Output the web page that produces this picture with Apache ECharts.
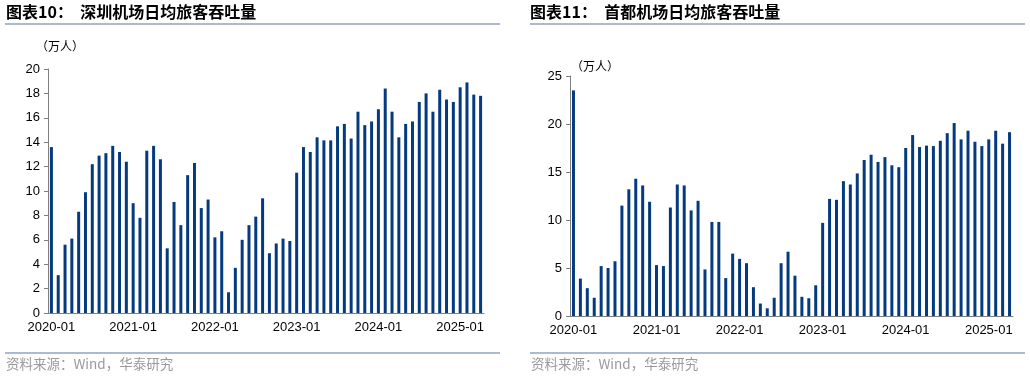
<!DOCTYPE html>
<html lang="zh">
<head>
    <meta charset="UTF-8" />
    <title>机场日均旅客吞吐量</title>
    <script src="https://cdn.jsdelivr.net/npm/echarts@6/dist/echarts.min.js"></script>
    <style>
        html, body { margin: 0; padding: 0; background: #fff; }
        #main { width: 1030px; height: 377px; }
    </style>
</head>
<body>
    <div id="main"></div>
    <script>
        // 月份 2020-01 ~ 2025-04
        var months = [];
        for (var y = 2020; y <= 2025; y++) {
            for (var m = 1; m <= 12; m++) {
                if (y === 2025 && m > 4) break;
                months.push(y + '-' + (m < 10 ? '0' + m : m));
            }
        }

        // 深圳机场日均旅客吞吐量（万人）
        var shenzhen = [
            13.6, 3.1, 5.6, 6.1, 8.3, 9.9, 12.2, 12.9, 13.1, 13.7, 13.2, 12.4,
            9.0, 7.8, 13.3, 13.7, 12.6, 5.3, 9.1, 7.2, 11.3, 12.3, 8.6, 9.3,
            6.2, 6.7, 1.7, 3.7, 6.0, 7.2, 7.9, 9.4, 4.9, 5.7, 6.1, 5.9,
            11.5, 13.6, 13.2, 14.4, 14.15, 14.15, 15.3, 15.5, 14.3, 16.5, 15.4, 15.7,
            16.7, 18.4, 16.5, 14.4, 15.5, 15.7, 17.3, 18.0, 16.5, 18.3, 17.5, 17.3,
            18.5, 18.9, 17.9, 17.8
        ];

        // 首都机场日均旅客吞吐量（万人）
        var beijing = [
            23.5, 3.9, 2.9, 1.9, 5.2, 5.0, 5.7, 11.5, 13.2, 14.3, 13.6, 11.9,
            5.3, 5.2, 11.3, 13.7, 13.6, 11.0, 12.0, 4.85, 9.8, 9.8, 3.95, 6.5,
            5.95, 5.5, 3.0, 1.3, 0.8, 1.9, 5.5, 6.7, 4.2, 2.0, 1.85, 3.2,
            9.7, 12.2, 12.1, 14.05, 13.7, 14.85, 16.25, 16.8, 16.05, 16.55, 15.7, 15.5,
            17.5, 18.85, 17.6, 17.75, 17.7, 18.25, 19.05, 20.1, 18.4, 19.3, 18.15, 17.7,
            18.4, 19.3, 17.95, 19.15
        ];

        var leftTicks = [0, 2, 4, 6, 8, 10, 12, 14, 16, 18, 20];
        var rightTicks = [0, 5, 10, 15, 20, 25];

        var barColor = '#053b7e';
        var axisColor = '#7f7f7f';
        var lineColor = '#8ea5c2';

        var chart = echarts.init(document.getElementById('main'));

        function xAxisOf(grid) {
            return {
                type: 'category',
                gridIndex: grid,
                data: months,
                boundaryGap: true,
                axisLine: { lineStyle: { color: axisColor, width: 1 } },
                axisTick: { interval: 11, length: 4, lineStyle: { color: axisColor } },
                axisLabel: {
                    interval: 11,
                    color: '#000',
                    fontSize: 13,
                    fontFamily: 'Liberation Sans, Arial, sans-serif',
                    margin: 8
                }
            };
        }

        function yAxisOf(grid, ticks) {
            return {
                type: 'value',
                gridIndex: grid,
                min: ticks[0],
                max: ticks[ticks.length - 1],
                interval: ticks[1] - ticks[0],
                splitLine: { show: false },
                axisLine: { show: true, lineStyle: { color: axisColor, width: 1 } },
                axisTick: { show: true, length: 4, lineStyle: { color: axisColor } },
                axisLabel: {
                    color: '#000',
                    fontSize: 13,
                    fontFamily: 'Liberation Sans, Arial, sans-serif',
                    margin: 8
                }
            };
        }

        var titleFont = 'bold 16px "Noto Sans CJK SC", sans-serif';
        var noteFont = '13.5px "Noto Sans CJK SC", sans-serif';

        var option = {
            animation: false,
            backgroundColor: '#fff',
            grid: [
                { left: 48, top: 69, width: 436, height: 244 },
                { left: 570, top: 76, width: 443, height: 240 }
            ],
            xAxis: [xAxisOf(0), xAxisOf(1)],
            yAxis: [yAxisOf(0, leftTicks), yAxisOf(1, rightTicks)],
            series: [
                {
                    type: 'bar',
                    xAxisIndex: 0,
                    yAxisIndex: 0,
                    data: shenzhen,
                    barWidth: 3,
                    itemStyle: { color: barColor }
                },
                {
                    type: 'bar',
                    xAxisIndex: 1,
                    yAxisIndex: 1,
                    data: beijing,
                    barWidth: 3,
                    itemStyle: { color: barColor }
                }
            ],
            graphic: [
                // 标题
                { type: 'text', left: 6, top: 4, style: { text: '图表10：  深圳机场日均旅客吞吐量', font: titleFont, fill: '#000' } },
                { type: 'text', left: 530, top: 4, style: { text: '图表11：  首都机场日均旅客吞吐量', font: titleFont, fill: '#000' } },
                { type: 'line', shape: { x1: 5, y1: 24, x2: 500, y2: 24 }, style: { stroke: lineColor, lineWidth: 1.5 } },
                { type: 'line', shape: { x1: 530, y1: 24, x2: 1025, y2: 24 }, style: { stroke: lineColor, lineWidth: 1.5 } },
                // 单位
                { type: 'text', left: 36, top: 40, style: { text: '（万人）', font: '12px "Noto Sans CJK SC", sans-serif', fill: '#000' } },
                { type: 'text', left: 571, top: 60, style: { text: '（万人）', font: '12px "Noto Sans CJK SC", sans-serif', fill: '#000' } },
                // 资料来源
                { type: 'line', shape: { x1: 5, y1: 353, x2: 500, y2: 353 }, style: { stroke: lineColor, lineWidth: 1.5 } },
                { type: 'line', shape: { x1: 530, y1: 353, x2: 1025, y2: 353 }, style: { stroke: lineColor, lineWidth: 1.5 } },
                { type: 'text', left: 6, top: 357, style: { text: '资料来源：Wind，华泰研究', font: noteFont, fill: '#9a9a9a' } },
                { type: 'text', left: 531, top: 357, style: { text: '资料来源：Wind，华泰研究', font: noteFont, fill: '#9a9a9a' } }
            ]
        };

        chart.setOption(option);
    </script>
</body>
</html>
